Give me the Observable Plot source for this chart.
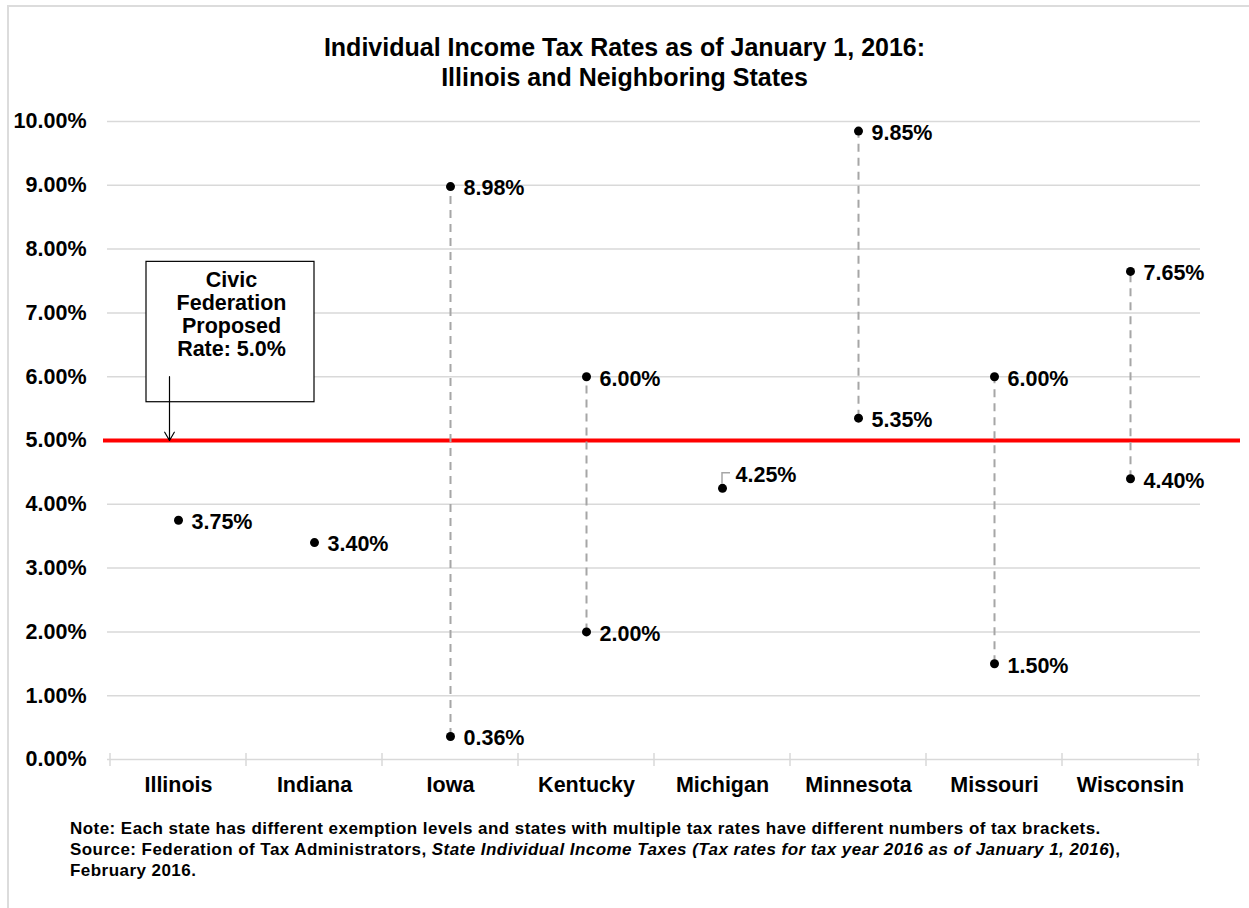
<!DOCTYPE html>
<html><head><meta charset="utf-8">
<script src="https://cdn.jsdelivr.net/npm/d3@7"></script>
<script src="https://cdn.jsdelivr.net/npm/@observablehq/plot@0.6"></script>
<style>
body{margin:0;background:#fff;font-family:"Liberation Sans",Arial,sans-serif;color:#000;overflow:hidden;}
#frame{position:absolute;left:7px;top:5px;width:1260px;height:920px;border-left:2px solid #dcdcdc;border-top:2px solid #dcdcdc;}
#title{position:absolute;left:0;top:32px;width:1249px;text-align:center;font-weight:bold;font-size:25px;line-height:30px;}
#chart{position:absolute;left:0;top:100px;}
#note{position:absolute;left:70px;top:818px;font-weight:bold;font-size:17px;letter-spacing:0.45px;line-height:21px;white-space:nowrap;}
</style></head><body>
<div id="frame"></div>
<div id="title">Individual Income Tax Rates as of January 1, 2016:<br>Illinois and Neighboring States</div>
<div id="chart"></div>
<div id="note">Note: Each state has different exemption levels and states with multiple tax rates have different numbers of tax brackets.<br>Source: Federation of Tax Administrators, <i>State Individual Income Taxes (Tax rates for tax year 2016 as of January 1, 2016</i>),<br>February 2016.</div>
<script>
const states = ["Illinois","Indiana","Iowa","Kentucky","Michigan","Minnesota","Missouri","Wisconsin"];
const lowRates  = [3.75, 3.40, 0.36, 2.00, 4.25, 5.35, 1.50, 4.40];
const highRates = [3.75, 3.40, 8.98, 6.00, 4.25, 9.85, 6.00, 7.65];
const yTicks = [0,1,2,3,4,5,6,7,8,9,10];
const proposedRate = 5.0;
const boxLines = ["Civic","Federation","Proposed","Rate: 5.0%"];
const boxTop = 7.8, boxBottom = 5.6, boxTextY = 6.98, arrowStart = 6.0;

const fmt = v => v.toFixed(2) + "%";
const ranges = states.map((s,i)=>({state:s, low:lowRates[i], high:highRates[i]})).filter(d=>d.low!==d.high);
const points = [];
states.forEach((s,i)=>{
  points.push({state:s, value:highRates[i]});
  if (lowRates[i] !== highRates[i]) points.push({state:s, value:lowRates[i]});
});
const leaderState = "Michigan";

const boundaryTicks = (index, scales, values, dims) => {
  const x = scales.x, y = scales.y;
  const step = x(states[1]) - x(states[0]);
  const g = d3.create("svg:g");
  const y0 = y(0);
  const edges = [x(states[0]), ...states.map(s => x(s) + step)];
  for (const e of edges) {
    g.append("line").attr("x1", e).attr("x2", e).attr("y1", y0 - 6).attr("y2", y0 + 7)
      .attr("stroke", "#d9d9d9").attr("stroke-width", 1.5);
  }
  return g.node();
};
const leader = (index, scales) => {
  const x = scales.x, y = scales.y;
  const step = x(states[1]) - x(states[0]);
  const i = states.indexOf(leaderState);
  const cx = x(leaderState) + step/2, cy = y(highRates[i]);
  const g = d3.create("svg:g");
  g.append("path").attr("d", `M${cx},${cy-4}V${cy-15}H${cx+8}`)
    .attr("fill","none").attr("stroke","#a6a6a6").attr("stroke-width",1.5);
  return g.node();
};

const chart = Plot.plot({
  width: 1249, height: 720,
  marginTop: 21, marginBottom: 61, marginLeft: 107, marginRight: 49,
  style: {fontFamily: "Liberation Sans, Arial, sans-serif", fontSize: "21.5px", fontWeight: "bold", color: "#000", background: "transparent", overflow: "visible"},
  x: {type: "band", domain: states, padding: 0, label: null, tickSize: 0, tickPadding: 17},
  y: {domain: [0, 10], ticks: yTicks, tickFormat: fmt, label: null, tickSize: 0, tickPadding: 21},
  marks: [
    Plot.ruleY(yTicks, {stroke: "#d9d9d9", strokeWidth: 1.5}),
    boundaryTicks,
    Plot.ruleY([proposedRate], {stroke: "#ff0000", strokeWidth: 4, insetLeft: -4, insetRight: -40}),
    Plot.ruleX(ranges, {x: "state", y1: "low", y2: "high", stroke: "#a6a6a6", strokeWidth: 2, strokeDasharray: "8,6"}),
    Plot.dot(points, {x: "state", y: "value", r: 4.5, fill: "#000", stroke: "none"}),
    Plot.text(points.filter(d => d.state !== leaderState), {x: "state", y: "value", text: d => fmt(d.value), dx: 13, dy: 2, textAnchor: "start", fontSize: 21.5, fontWeight: "bold", fill: "#000"}),
    Plot.text(points.filter(d => d.state === leaderState), {x: "state", y: "value", text: d => fmt(d.value), dx: 13, dy: -13, textAnchor: "start", fontSize: 21.5, fontWeight: "bold", fill: "#000"}),
    leader,
    Plot.barY([0], {x: () => states[0], y1: boxBottom, y2: boxTop, fill: "#fff", stroke: "#000", strokeWidth: 1.2, insetLeft: 36, insetRight: -68}),
    Plot.text([0], {x: () => states[0], y: boxTextY, text: () => boxLines.join("\n"), dx: 53, lineHeight: 1.08, fontSize: 21.5, fontWeight: "bold", textAnchor: "middle", fill: "#000"}),
    Plot.arrow([0], {x1: () => states[0], x2: () => states[0], y1: arrowStart, y2: proposedRate, dx: -9, stroke: "#000", strokeWidth: 1.2, headLength: 12, insetEnd: 0})
  ]
});
document.getElementById("chart").appendChild(chart);
</script>
</body></html>
